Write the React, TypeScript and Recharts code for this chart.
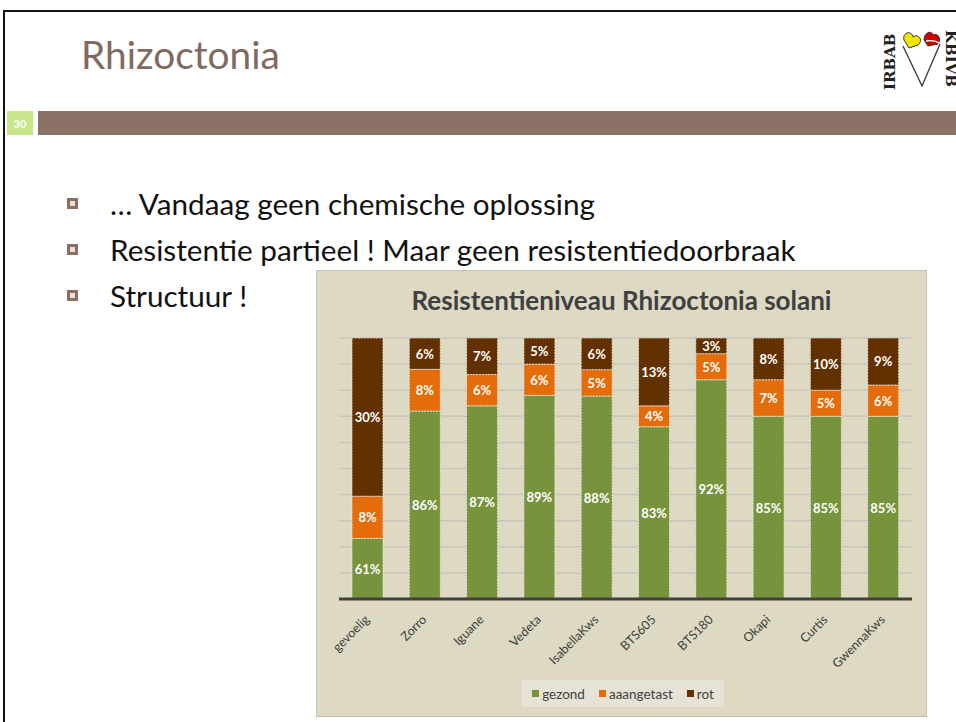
import React from "react"
import { BarChart, Bar, XAxis, YAxis, CartesianGrid, LabelList } from "recharts"

const rassen = ["gevoelig", "Zorro", "Iguane", "Vedeta", "IsabellaKws", "BTS605", "BTS180", "Okapi", "Curtis", "GwennaKws"]
const gezond = [61, 86, 87, 89, 88, 83, 92, 85, 85, 85]
const aangetast = [8, 8, 6, 6, 5, 4, 5, 7, 5, 6]
const rot = [30, 6, 7, 5, 6, 13, 3, 8, 10, 9]
const gridTicks = [50, 55, 60, 65, 70, 75, 80, 85, 90, 95, 100]

const seriesNames = ["gezond", "aaangetast", "rot"]
const seriesColors = ["#77933c", "#e46c0a", "#633100"]

const bullets = [
    "… Vandaag geen chemische oplossing",
    "Resistentie partieel ! Maar geen resistentiedoorbraak",
    "Structuur !",
]

// 100% stacked like the original: each bar is scaled to its own total,
// labels show the values as read
const data = rassen.map((name, i) => {
    const total = gezond[i] + aangetast[i] + rot[i]
    return {
        name,
        gezond: gezond[i],
        aaangetast: aangetast[i],
        rot: rot[i],
        gezond_pct: (gezond[i] / total) * 100,
        aaangetast_pct: (aangetast[i] / total) * 100,
        rot_pct: (rot[i] / total) * 100,
    }
})

const FONT = "Lato, 'Open Sans', sans-serif"
const CHART_W = 611
const CHART_H = 447
const MARGIN = { top: 68, right: 15, left: 23, bottom: 0 }
const XAXIS_H = 118
const PLOT_BOTTOM = CHART_H - MARGIN.bottom - XAXIS_H

// labels centered on the part of the segment that is visible above the axis
const renderLabel = (props: any) => {
    const { x, y, width, height, value } = props
    const bottom = Math.min(y + height, PLOT_BOTTOM)
    const cy = (y + bottom) / 2
    return (
        <text
            x={x + width / 2}
            y={cy}
            fill="#fff"
            textAnchor="middle"
            dominantBaseline="central"
            fontSize={13}
            fontWeight="bold"
            fontFamily={FONT}
        >
            {`${value}%`}
        </text>
    )
}

const RasTick = ({ x, y, payload }: any) => (
    <g transform={`translate(${x - 4},${y + 7})`}>
        <text
            textAnchor="end"
            transform="rotate(-45)"
            dy="0.72em"
            fontSize={12.5}
            fill="#404040"
            fontFamily={FONT}
        >
            {payload.value}
        </text>
    </g>
)

const Logo = () => (
    <svg width={76} height={72} style={{ position: "absolute", left: 880, top: 24 }}>
        <text
            transform="translate(15,66) rotate(-90)"
            fontFamily="'DejaVu Serif', serif"
            fontWeight="bold"
            fontSize={15}
            fill="#222"
        >
            IRBAB
        </text>
        <path d="M23 22 L42 62 L60 20" fill="none" stroke="#333" strokeWidth={1.3} />
        <path d="M24 16 C22 8 32 6 33 13 C38 9 44 16 38 21 L29 24 Z" fill="#f2e600" stroke="#333" strokeWidth={1} />
        <path d="M44 16 C44 8 52 6 53 11 C58 8 62 16 58 20 L48 22 Z" fill="#d10000" stroke="#333" strokeWidth={1} />
        <path d="M46 17 C52 16 58 18 61 20" fill="none" stroke="#fff" strokeWidth={1.3} />
        <text
            transform="translate(66,6) rotate(90)"
            fontFamily="'DejaVu Serif', serif"
            fontWeight="bold"
            fontSize={15}
            fill="#222"
        >
            KBIVB
        </text>
    </svg>
)

const Bullet = ({ text, top }: { text: string; top: number }) => (
    <div style={{ position: "absolute", left: 67, top, height: 34, display: "flex", alignItems: "center" }}>
        <div
            style={{
                width: 11,
                height: 11,
                background: "#8c6f63",
                display: "flex",
                alignItems: "center",
                justifyContent: "center",
                marginRight: 32,
            }}
        >
            <div style={{ width: 5, height: 5, background: "#eadfdb" }} />
        </div>
        <span style={{ fontSize: 29.7, color: "#111", fontFamily: FONT, whiteSpace: "nowrap" }}>{text}</span>
    </div>
)

export default function App() {
    return (
        <div
            style={{
                position: "absolute",
                left: 0,
                top: 0,
                width: 956,
                height: 722,
                background: "#fff",
                overflow: "hidden",
                fontFamily: FONT,
            }}
        >
            <div
                style={{
                    position: "absolute",
                    left: 3,
                    top: 10,
                    width: 1000,
                    height: 800,
                    borderLeft: "2px solid #111",
                    borderTop: "2px solid #111",
                }}
            />
            <div style={{ position: "absolute", left: 81, top: 31, fontSize: 38.8, color: "#7f6a61" }}>Rhizoctonia</div>
            <Logo />
            <div
                style={{
                    position: "absolute",
                    left: 7,
                    top: 111,
                    width: 26,
                    height: 24,
                    background: "#c8e58a",
                    color: "#fff",
                    fontSize: 11,
                    fontWeight: "bold",
                    display: "flex",
                    alignItems: "center",
                    justifyContent: "center",
                }}
            >
                30
            </div>
            <div style={{ position: "absolute", left: 38, top: 111, width: 918, height: 24, background: "#8b7065" }} />

            {bullets.map((b, i) => (
                <Bullet key={b} text={b} top={186 + i * 46} />
            ))}

            <div
                style={{
                    position: "absolute",
                    left: 316,
                    top: 270,
                    width: CHART_W,
                    height: CHART_H,
                    background: "#ddd9c3",
                    boxShadow: "inset 0 0 0 1px #c4c1b4",
                }}
            >
                <div
                    style={{
                        position: "absolute",
                        left: 0,
                        top: 14,
                        width: CHART_W,
                        textAlign: "center",
                        fontSize: 26,
                        fontWeight: "bold",
                        color: "#404040",
                    }}
                >
                    Resistentieniveau Rhizoctonia solani
                </div>
                <div style={{ position: "absolute", left: 0, top: 0 }}>
                    <BarChart width={CHART_W} height={CHART_H} data={data} margin={MARGIN} barSize={31}>
                        <CartesianGrid vertical={false} stroke="#c9c6bc" strokeWidth={1.5} />
                        <YAxis hide domain={[50, 100]} allowDataOverflow ticks={gridTicks} />
                        <XAxis
                            dataKey="name"
                            height={XAXIS_H}
                            interval={0}
                            tickLine={false}
                            axisLine={{ stroke: "#404040", strokeWidth: 3 }}
                            tick={<RasTick />}
                        />
                        {seriesNames.map((key, i) => (
                            <Bar
                                key={key}
                                dataKey={`${key}_pct`}
                                name={key}
                                stackId="a"
                                fill={seriesColors[i]}
                                stroke="#f0eee6"
                                strokeWidth={0.8}
                                strokeDasharray="2 1"
                                isAnimationActive={false}
                            >
                                <LabelList dataKey={key} content={renderLabel} />
                            </Bar>
                        ))}
                    </BarChart>
                </div>
                <div
                    style={{
                        position: "absolute",
                        left: 206,
                        top: 410,
                        width: 202,
                        height: 27,
                        background: "#e6e3d6",
                        display: "flex",
                        alignItems: "center",
                        justifyContent: "center",
                        gap: 14,
                        fontSize: 13.5,
                        color: "#404040",
                    }}
                >
                    {seriesNames.map((n, i) => (
                        <div key={n} style={{ display: "flex", alignItems: "center" }}>
                            <div style={{ width: 7, height: 7, background: seriesColors[i], marginRight: 3 }} />
                            {n}
                        </div>
                    ))}
                </div>
            </div>
        </div>
    )
}
